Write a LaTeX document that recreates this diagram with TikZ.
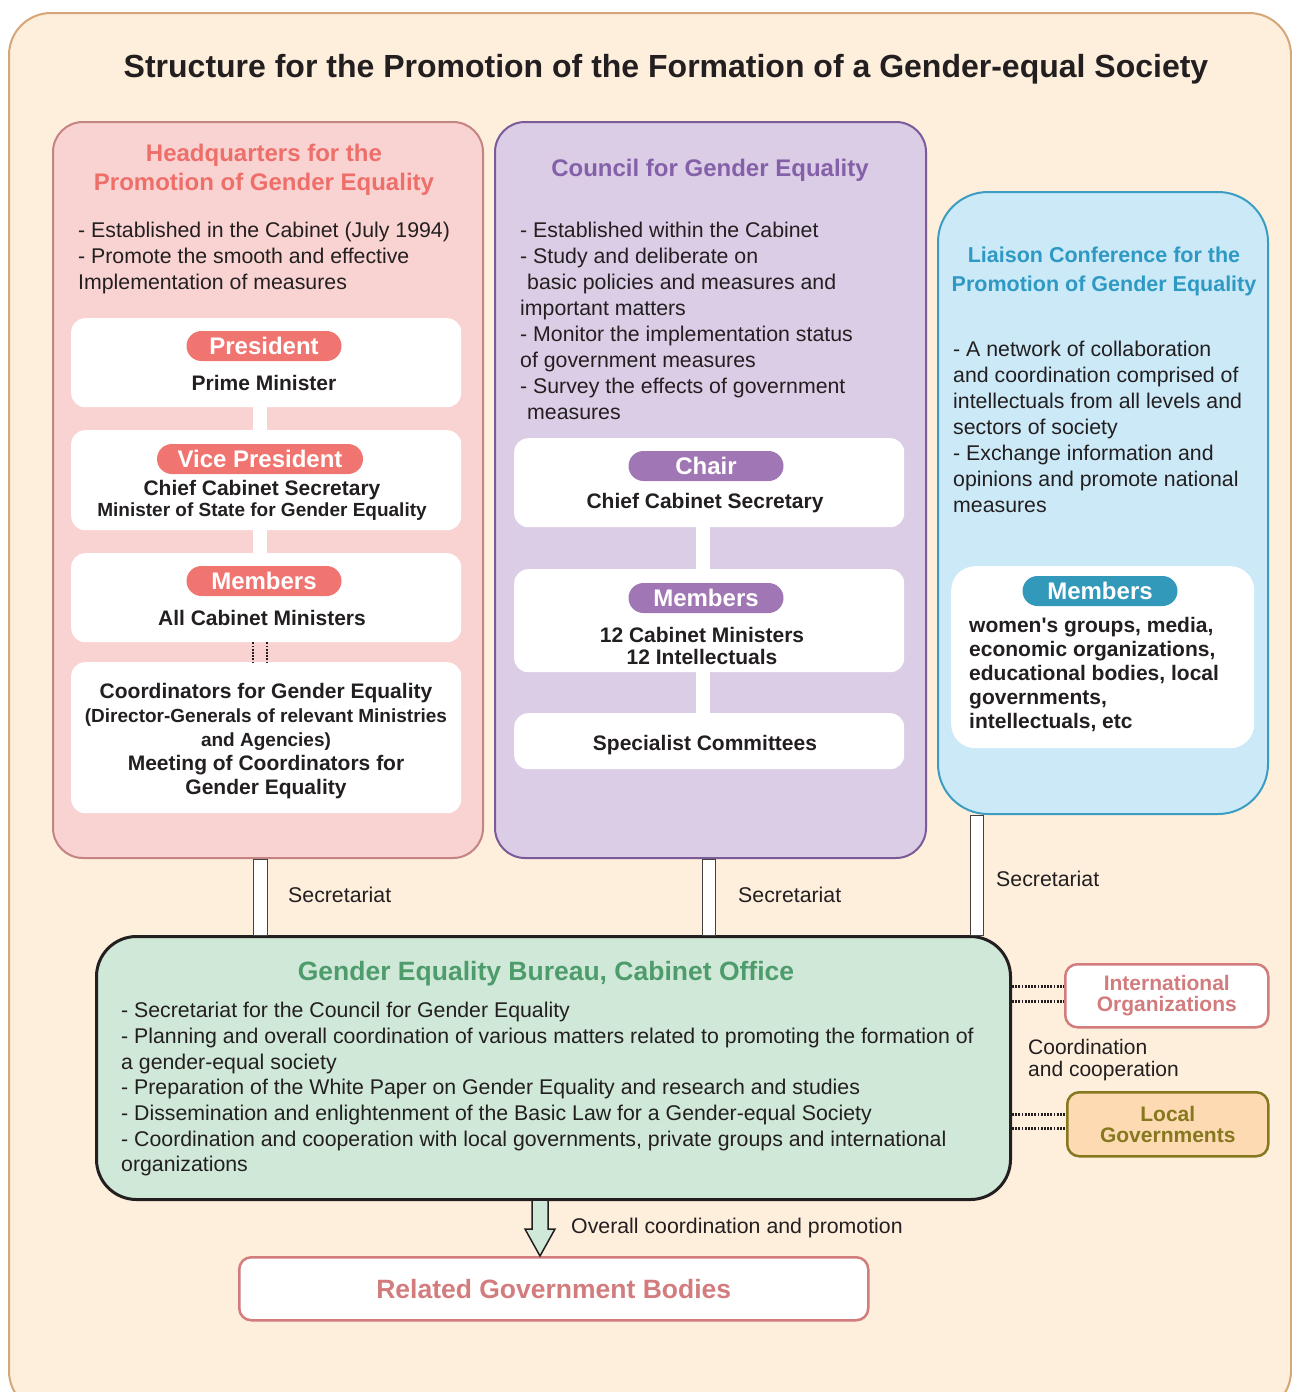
\documentclass[tikz,border=0pt]{standalone}
\usepackage{fontspec}
\setmainfont{Liberation Sans}
\usetikzlibrary{positioning}

\definecolor{ink}{HTML}{231F20}
\definecolor{peach}{HTML}{FEEEDC}
\definecolor{framec}{HTML}{D6A676}
\definecolor{hqfill}{HTML}{F9D3D1}
\definecolor{hqline}{HTML}{C48484}
\definecolor{hqtitle}{HTML}{EE6E6A}
\definecolor{hqpill}{HTML}{F07470}
\definecolor{cofill}{HTML}{DCCDE6}
\definecolor{coline}{HTML}{7B5A9A}
\definecolor{cotitle}{HTML}{8360A8}
\definecolor{copill}{HTML}{A077B4}
\definecolor{lifill}{HTML}{CCE9F8}
\definecolor{liline}{HTML}{3C9DC2}
\definecolor{lititle}{HTML}{2E9AC4}
\definecolor{lipill}{HTML}{3399BB}
\definecolor{bufill}{HTML}{D0E8D8}
\definecolor{butitle}{HTML}{4E9C6C}
\definecolor{rose}{HTML}{D27C7E}
\definecolor{lgfill}{HTML}{FDDAB2}
\definecolor{lgline}{HTML}{85781F}

\newcommand\bodyfont{\fontsize{21.3}{26}\selectfont}
\newcommand\boldfont{\fontsize{21}{22}\selectfont\bfseries}
\newcommand\headfont{\fontsize{24}{29}\selectfont\bfseries}
\newcommand\pillfont{\fontsize{24}{24}\selectfont\bfseries}

\begin{document}
\begin{tikzpicture}[
			x=1pt, y=-1pt,
			every node/.style={inner sep=0pt, text=ink},
			panel/.style={draw, line width=2pt, rounded corners=30pt, anchor=north west},
			card/.style={fill=white, rounded corners=14pt, anchor=north west, minimum width=390pt},
			pill/.style={rounded corners=15pt, minimum width=155pt, minimum height=30pt, text=white, font=\pillfont},
			head/.style={font=\headfont, align=center},
			body/.style={font=\bodyfont, align=left, anchor=north west},
			bold/.style={font=\boldfont, align=center},
			note/.style={font=\bodyfont, anchor=west},
			secbar/.style={fill=white, draw=ink!85, line width=1pt},
			link/.style={draw=ink, line width=3pt, dash pattern=on 1.8pt off 1.4pt},
			outbox/.style={draw, line width=2.5pt, rounded corners=12pt, anchor=north west, align=center, font=\fontsize{21}{21}\selectfont\bfseries}
			]
			
			\useasboundingbox (0,0) rectangle (1292,1392);
			\node[panel, draw=framec, fill=peach, rounded corners=42pt, minimum width=1282pt, minimum height=1400pt] (frame) at (8,12) {};
			\node[font=\fontsize{32}{34}\selectfont\bfseries] (title) at (666,69) {Structure for the Promotion of the Formation of a Gender-equal Society};
			
			% three bodies
			\node[panel, draw=hqline, fill=hqfill, minimum width=430pt, minimum height=736pt] (hq) at (52,121) {};
			\node[panel, draw=coline, fill=cofill, minimum width=431pt, minimum height=736pt] (council) at (494,121) {};
			\node[panel, draw=liline, fill=lifill, rounded corners=50pt, minimum width=330pt, minimum height=622pt] (liaison) at (937,191) {};
			
			\node[head, text=hqtitle] (hqhead) at (264,170) {Headquarters for the\\Promotion of Gender Equality};
			\node[head, text=cotitle] (cohead) at (710,170) {Council for Gender Equality};
			\node[head, text=lititle, font=\fontsize{21.5}{29}\selectfont\bfseries] (lihead) at (1104,271) {Liaison Conference for the\\Promotion of Gender Equality};
			
			\node[body] (hqtext) at (78,222) {- Established in the Cabinet (July 1994)\\- Promote the smooth and effective\\Implementation of measures};
			\node[body] (cotext) at (520,222) {- Established within the Cabinet\\- Study and deliberate on\\\hspace*{7pt}basic policies and measures and\\important matters\\- Monitor the implementation status\\of government measures\\- Survey the effects of government\\\hspace*{7pt}measures};
			\node[body] (litext) at (953,341) {- A network of collaboration\\and coordination comprised of\\intellectuals from all levels and\\sectors of society\\- Exchange information and\\opinions and promote national\\measures};
			
			% headquarters cards
			\node[card, minimum height=89pt] (pres) at (71,318) {};
			\node[card, minimum height=100pt] (vice) at (71,430) {};
			\node[card, minimum height=89pt] (hqmem) at (71,553) {};
			\node[card, minimum height=151pt] (coord) at (71,662) {};
			\fill[white] (253,0 |- pres.south) rectangle (267,0 |- vice.north);
			\fill[white] (253,0 |- vice.south) rectangle (267,0 |- hqmem.north);
			\draw[link, line width=2.6pt] (253,0 |- hqmem.south) -- (253,0 |- coord.north);
			\draw[link, line width=2.6pt] (267,0 |- hqmem.south) -- (267,0 |- coord.north);
			
			\node[pill, fill=hqpill] (prespill) at (264,346) {President};
			\node[bold] (prestext) at (264,383) {Prime Minister};
			\node[pill, fill=hqpill, minimum width=206pt] (vicepill) at (260,459) {Vice President};
			\node[bold] (vicetext) at (262,490) {Chief Cabinet Secretary};
			\node[bold, font=\fontsize{19}{22}\selectfont\bfseries] (vicetext2) at (262,512) {Minister of State for Gender Equality};
			\node[pill, fill=hqpill] (hqmempill) at (264,581) {Members};
			\node[bold] (hqmemtext) at (262,618) {All Cabinet Ministers};
			\node[bold] (coordtop) at (266,693) {Coordinators for Gender Equality};
			\node[bold, font=\fontsize{19}{24}\selectfont\bfseries] (coordmid) at (266,730) {(Director-Generals of relevant Ministries\\and Agencies)};
			\node[bold, font=\fontsize{21}{24}\selectfont\bfseries] (coordlow) at (266,777) {Meeting of Coordinators for\\Gender Equality};
			
			% council cards
			\node[card, minimum height=89pt] (chair) at (514,438) {};
			\node[card, minimum height=103pt] (comem) at (514,569) {};
			\node[card, minimum height=56pt] (spec) at (514,713) {};
			\fill[white] (696,0 |- chair.south) rectangle (710,0 |- comem.north);
			\fill[white] (696,0 |- comem.south) rectangle (710,0 |- spec.north);
			
			\node[pill, fill=copill] (chairpill) at (706,466) {Chair};
			\node[bold] (chairtext) at (705,503) {Chief Cabinet Secretary};
			\node[pill, fill=copill] (comempill) at (706,598) {Members};
			\node[bold] (comemtext) at (702,646) {12 Cabinet Ministers\\12 Intellectuals};
			\node[bold] (spectext) at (705,745) {Specialist Committees};
			
			% liaison card
			\node[card, rounded corners=24pt, minimum width=303pt, minimum height=182pt] (limem) at (951,566) {};
			\node[pill, fill=lipill] (limempill) at (1100,591) {Members};
			\node[body, font=\fontsize{21}{24}\selectfont\bfseries] (limemtext) at (969,617) {women\textquotesingle s groups, media,\\economic organizations,\\educational bodies, local\\governments,\\intellectuals, etc};
			
			% bureau
			\node[panel, draw=ink, fill=bufill, line width=3pt, rounded corners=40pt, minimum width=914pt, minimum height=263pt] (bureau) at (95,935) {};
			\node[head, text=butitle, font=\fontsize{26.5}{30}\selectfont\bfseries] (buhead) at (546,974) {Gender Equality Bureau, Cabinet Office};
			\node[body, font=\fontsize{21.3}{25.7}\selectfont] (butext) at (121,1002) {- Secretariat for the Council for Gender Equality\\- Planning and overall coordination of various matters related to promoting the formation of\\a gender-equal society\\- Preparation of the White Paper on Gender Equality and research and studies\\- Dissemination and enlightenment of the Basic Law for a Gender-equal Society\\- Coordination and cooperation with local governments, private groups and international\\organizations};
			
			% secretariat links
			\draw[secbar] (253,0 |- hq.south) rectangle (267,0 |- bureau.north);
			\draw[secbar] (702,0 |- council.south) rectangle (715,0 |- bureau.north);
			\draw[secbar] (970,0 |- liaison.south) rectangle (983,0 |- bureau.north);
			\node[note] (sec1) at (288,895) {Secretariat};
			\node[note] (sec2) at (738,895) {Secretariat};
			\node[note] (sec3) at (996,879) {Secretariat};
			
			% partners
			\node[outbox, draw=rose, fill=white, text=rose, minimum width=203pt, minimum height=63pt] (intl) at (1064,963) {International\\Organizations};
			\node[outbox, draw=lgline, fill=lgfill, text=lgline, minimum width=201pt, minimum height=64pt] (local) at (1066,1091) {Local\\Governments};
			\draw[link] (bureau.east |- 0,986) -- (intl.west |- 0,986);
			\draw[link] (bureau.east |- 0,1001) -- (intl.west |- 0,1001);
			\draw[link] (bureau.east |- 0,1114) -- (local.west |- 0,1114);
			\draw[link] (bureau.east |- 0,1128) -- (local.west |- 0,1128);
			\node[note, align=left, font=\fontsize{21}{22}\selectfont] (coop) at (1028,1060) {Coordination\\and cooperation};
			
			% related bodies
			\node[outbox, draw=rose, fill=white, text=rose, font=\fontsize{26.5}{30}\selectfont\bfseries, minimum width=629pt, minimum height=63pt] (related) at (238,1256) {Related Government Bodies};
			\draw[fill=bufill, draw=ink, line width=1.5pt, line join=miter] (532,0 |- bureau.south) -- (532,1229) -- (525,1229) -- (540,0 |- related.north) -- (555,1229) -- (548,1229) -- (548,0 |- bureau.south);
			\node[note] (promo) at (571,1228) {Overall coordination and promotion};
			
			\end{tikzpicture}
\end{document}
